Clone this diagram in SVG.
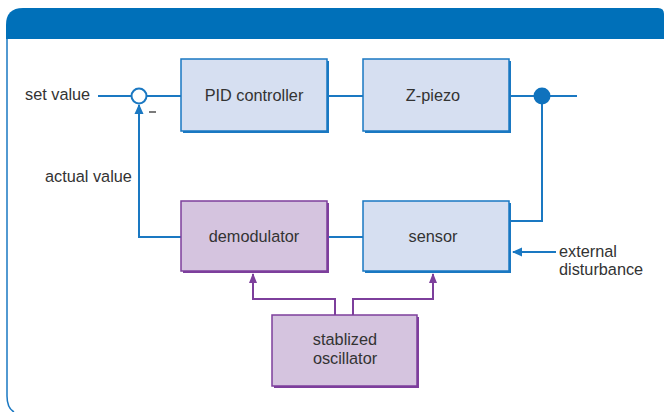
<svg xmlns="http://www.w3.org/2000/svg" width="664" height="412" viewBox="0 0 664 412">
<defs>
<style>
text{font-family:"Liberation Sans",Arial,sans-serif;font-size:16.3px;fill:#333;}
.mid{text-anchor:middle;}
.bshadow{fill:#1a78c2;}
.bbox{fill:#d6dff1;stroke:#1a78c2;stroke-width:1.5;}
.pshadow{fill:#7d3f9c;}
.pbox{fill:#d5c4df;stroke:#7d3f9c;stroke-width:1.5;}
.wire{fill:none;stroke:#1a78c2;stroke-width:2;}
.pwire{fill:none;stroke:#7d3f9c;stroke-width:2;}
</style>
<marker id="ab" markerWidth="10" markerHeight="10" refX="9" refY="5" orient="auto" markerUnits="userSpaceOnUse" viewBox="0 0 10 10">
<path d="M0,0.5 L10,5 L0,9.5 z" fill="#1a78c2"/>
</marker>
<marker id="ap" markerWidth="10" markerHeight="10" refX="9" refY="5" orient="auto" markerUnits="userSpaceOnUse" viewBox="0 0 10 10">
<path d="M0,1 L10,5 L0,9 z" fill="#7d3f9c"/>
</marker>
</defs>
<rect width="664" height="412" fill="#fff"/>
<g id="frame">
<path d="M7,39 V396 Q7,408 14,412" fill="none" stroke="#1a78c2" stroke-width="1.5"/>
<path d="M6,39 V25 Q6,8 23,8 H658 Q664,8 664,14 V39 Z" fill="#0070b9"/>
</g>
<g id="connectors">
<line class="wire" x1="98" y1="96" x2="131" y2="96"/>
<line class="wire" x1="147" y1="96" x2="181" y2="96"/>
<line class="wire" x1="329" y1="96" x2="363" y2="96"/>
<line class="wire" x1="511" y1="96" x2="577" y2="96"/>
<polyline class="wire" points="542,96 542,221 511,221"/>
<polyline class="wire" points="181,237 139,237 139,105" marker-end="url(#ab)"/>
<line class="wire" x1="329" y1="237" x2="363" y2="237"/>
<line class="wire" x1="556" y1="252" x2="513" y2="252" marker-end="url(#ab)"/>
<polyline class="pwire" points="335,315 335,299 253,299 253,274" marker-end="url(#ap)"/>
<polyline class="pwire" points="353,315 353,299 433,299 433,274" marker-end="url(#ap)"/>
<line x1="149" y1="112" x2="156" y2="112" stroke="#333" stroke-width="1.3"/>
</g>
<g id="sum">
<circle cx="139" cy="96" r="7.5" fill="#fff" stroke="#1a78c2" stroke-width="2"/>
</g>
<g id="junction">
<circle cx="542" cy="96" r="8.5" fill="#0f72bd"/>
</g>
<g id="pid">
<rect class="bshadow" x="183" y="61" width="146" height="72"/>
<rect class="bbox" x="181" y="59" width="146" height="72"/>
<text class="mid" x="254" y="101">PID controller</text>
</g>
<g id="zpiezo">
<rect class="bshadow" x="365" y="61" width="146" height="72"/>
<rect class="bbox" x="363" y="59" width="146" height="72"/>
<text class="mid" x="433" y="101">Z-piezo</text>
</g>
<g id="demodulator">
<rect class="pshadow" x="183" y="203" width="146" height="70"/>
<rect class="pbox" x="181" y="201" width="146" height="70"/>
<text class="mid" x="254" y="242">demodulator</text>
</g>
<g id="sensor">
<rect class="bshadow" x="365" y="203" width="146" height="70"/>
<rect class="bbox" x="363" y="201" width="146" height="70"/>
<text class="mid" x="433" y="242">sensor</text>
</g>
<g id="oscillator">
<rect class="pshadow" x="274" y="317" width="145" height="71"/>
<rect class="pbox" x="272" y="315" width="145" height="71"/>
<text class="mid" x="345" y="345">stablized</text>
<text class="mid" x="345" y="364">oscillator</text>
</g>
<g id="labels">
<text x="25" y="100">set value</text>
<text x="45" y="182">actual value</text>
<text x="559" y="257">external</text>
<text x="559" y="275">disturbance</text>
</g>
</svg>
